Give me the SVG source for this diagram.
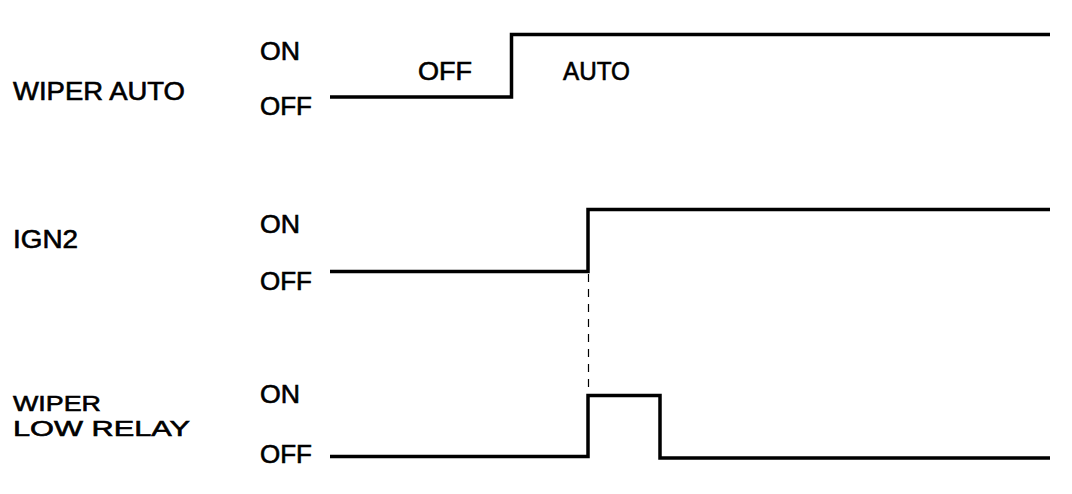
<svg xmlns="http://www.w3.org/2000/svg" width="1072" height="494" viewBox="0 0 1072 494">
<style>
text{font-family:"Liberation Sans",Arial,sans-serif;font-size:25px;fill:#000;stroke:#000;stroke-width:0.6}
text.small{font-size:22px}
.sig{fill:none;stroke:#000;stroke-width:3.5;stroke-linejoin:miter;stroke-linecap:butt}
.dash{fill:none;stroke:#000;stroke-width:1.2;stroke-dasharray:8 7}
</style>
<rect width="1072" height="494" fill="#fff"/>
<g id="wiper-auto">
<text x="13" y="100" textLength="172" lengthAdjust="spacingAndGlyphs">WIPER AUTO</text>
<text x="260" y="60" textLength="40" lengthAdjust="spacingAndGlyphs">ON</text>
<text x="260" y="115" textLength="52" lengthAdjust="spacingAndGlyphs">OFF</text>
<text x="418" y="80" textLength="54" lengthAdjust="spacingAndGlyphs">OFF</text>
<text x="563" y="80" textLength="67" lengthAdjust="spacingAndGlyphs">AUTO</text>
</g>
<g id="ign2">
<text x="13" y="248" textLength="65" lengthAdjust="spacingAndGlyphs">IGN2</text>
<text x="260" y="233" textLength="40" lengthAdjust="spacingAndGlyphs">ON</text>
<text x="260" y="290" textLength="52" lengthAdjust="spacingAndGlyphs">OFF</text>
</g>
<g id="wiper-low-relay">
<text class="small" x="13" y="411" textLength="88" lengthAdjust="spacingAndGlyphs">WIPER</text>
<text class="small" x="13" y="436" textLength="177" lengthAdjust="spacingAndGlyphs">LOW RELAY</text>
<text x="260" y="403" textLength="40" lengthAdjust="spacingAndGlyphs">ON</text>
<text x="260" y="463" textLength="52" lengthAdjust="spacingAndGlyphs">OFF</text>
</g>
<g id="connectors">
<path class="sig" d="M330 97 H511.5 V34.5 H1050"/>
<path class="sig" d="M330 271.5 H588 V209.5 H1050"/>
<path class="sig" d="M330 456.5 H588 V395.5 H660 V458 H1050"/>
<path class="dash" d="M588.5 274 V394"/>
</g>
</svg>
